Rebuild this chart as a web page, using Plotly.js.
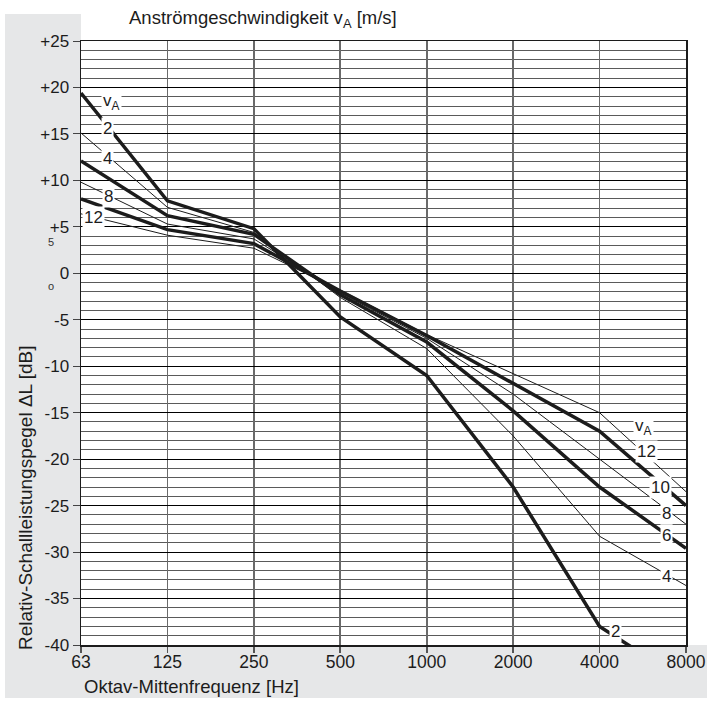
<!DOCTYPE html>
<html>
<head>
<meta charset="utf-8">
<script src="https://cdn.plot.ly/plotly-3.0.1.min.js"></script>
<style>html,body{margin:0;padding:0;background:#fff;}#chart{width:707px;height:704px;}</style>
</head>
<body>
<div id="chart"></div>
<script>
// Octave-band centre frequencies (category axis)
const freqs = ["63", "125", "250", "500", "1000", "2000", "4000", "8000"];
// Relative sound power level ΔL [dB] per inflow velocity v_A [m/s]
const v2  = [19.4, 7.8, 4.8, -4.7, -11.0, -23.0, -38.0, -44.0];
const v4  = [15.1, 7.1, 4.4, -2.6, -8.1, -17.5, -28.3, -33.6];
const v6  = [12.1, 6.2, 4.2, -2.3, -7.4, -14.8, -23.0, -29.6];
const v8  = [9.8, 5.3, 3.7, -2.1, -7.0, -13.0, -20.0, -27.0];
const v10 = [8.0, 4.7, 3.2, -1.9, -6.7, -11.8, -17.0, -25.0];
const v12 = [6.4, 4.1, 2.7, -1.8, -6.6, -10.8, -15.0, -23.5];
// y tick labels
const yTickVals = [25, 20, 15, 10, 5, 0, -5, -10, -15, -20, -25, -30, -35, -40];
const yTickText = ["+25", "+20", "+15", "+10", "+5", "0", "-5", "-10", "-15", "-20", "-25", "-30", "-35", "-40"];

const FONT = "Liberation Sans, Arial, Helvetica, sans-serif";
const INK = "#1c1c1c";
const series = [
  {name: "2", y: v2, w: 3.5},
  {name: "4", y: v4, w: 1.0},
  {name: "6", y: v6, w: 3.5},
  {name: "8", y: v8, w: 1.0},
  {name: "10", y: v10, w: 3.5},
  {name: "12", y: v12, w: 1.0}
];
const traces = series.map(s => ({
  type: "scatter", mode: "lines", x: freqs, y: s.y, name: s.name,
  line: {color: INK, width: s.w}, showlegend: false, hoverinfo: "skip"
}));

function lab(text, x, y) {
  return {xref: "x", yref: "y", x: x, y: y, text: text, showarrow: false,
    font: {family: FONT, size: 17, color: INK}, bgcolor: "#ffffff", borderpad: 1,
    xanchor: "center", yanchor: "middle"};
}
const annotations = [
  // left labels
  lab("v<sub>A</sub>", 0.357, 18.4),
  lab("2", 0.31, 15.6),
  lab("4", 0.31, 12.4),
  lab("8", 0.32, 8.3),
  lab("12", 0.14, 6.0),
  // right labels
  lab("v<sub>A</sub>", 6.51, -16.5),
  lab("12", 6.54, -19.2),
  lab("10", 6.71, -23.0),
  lab("8", 6.77, -25.8),
  lab("6", 6.77, -28.2),
  lab("4", 6.77, -32.6),
  lab("2", 6.19, -38.6),
  // titles
  {xref: "paper", yref: "paper", x: 0.076, y: 1.036, xanchor: "left", yanchor: "middle",
   text: "Anströmgeschwindigkeit v<sub>A</sub> [m/s]", showarrow: false,
   font: {family: FONT, size: 18.5, color: INK}},
  {xref: "paper", yref: "paper", x: 0.0017, y: -0.069, xanchor: "left", yanchor: "middle",
   text: "Oktav-Mittenfrequenz [Hz]", showarrow: false,
   font: {family: FONT, size: 18.5, color: INK}},
  {xref: "paper", yref: "paper", x: -0.0926, y: 0.245, xanchor: "center", yanchor: "middle",
   text: "Relativ-Schallleistungspegel ΔL [dB]", textangle: -90, showarrow: false,
   font: {family: FONT, size: 19, color: INK}},
  // stray small marks
  {xref: "paper", yref: "y", x: -0.0579, y: 3.4, text: "5", showarrow: false,
   font: {family: FONT, size: 11, color: "#333"}},
  {xref: "paper", yref: "y", x: -0.0579, y: -1.4, text: "o", showarrow: false,
   font: {family: FONT, size: 11, color: "#333"}}
];

const GRAY = "#e6e7e8";
const shapes = [
  {type: "rect", xref: "paper", yref: "paper", x0: -0.1256, x1: 0, y0: -0.0877, y1: 1.0447,
   fillcolor: GRAY, line: {width: 0}, layer: "below"},
  {type: "rect", xref: "paper", yref: "paper", x0: -0.1256, x1: 1.04, y0: -0.0877, y1: 0,
   fillcolor: GRAY, line: {width: 0}, layer: "below"}
];

const layout = {
  width: 707, height: 704,
  margin: {l: 81, r: 21, t: 41, b: 59, pad: 0},
  paper_bgcolor: "#ffffff", plot_bgcolor: "#ffffff",
  font: {family: FONT, size: 17, color: INK},
  showlegend: false,
  xaxis: {
    type: "category", categoryorder: "array", categoryarray: freqs,
    range: [0, 7], showgrid: true, gridcolor: "#6a6a6a", gridwidth: 1.6,
    ticks: "outside", ticklen: 6, tickcolor: "#555", tickwidth: 1.6,
    ticklabelstandoff: -6,
    showline: true, linecolor: INK, linewidth: 1.5, mirror: true,
    tickfont: {family: FONT, size: 17.5, color: INK}, zeroline: false, fixedrange: true
  },
  yaxis: {
    range: [-40, 25], tickmode: "array", tickvals: yTickVals, ticktext: yTickText,
    showgrid: true, gridcolor: "#000", gridwidth: 1,
    minor: {tickmode: "linear", tick0: 0, dtick: 1, showgrid: true, gridcolor: "#5a5a5a", gridwidth: 1, ticks: ""},
    ticks: "outside", ticklen: 7, tickcolor: "#444", tickwidth: 1,
    showline: true, linecolor: INK, linewidth: 1.5, mirror: true, zeroline: false,
    tickfont: {family: FONT, size: 17, color: INK}, fixedrange: true
  },
  shapes: shapes,
  annotations: annotations
};

Plotly.newPlot("chart", traces, layout, {staticPlot: true, displayModeBar: false});
</script>
</body>
</html>
